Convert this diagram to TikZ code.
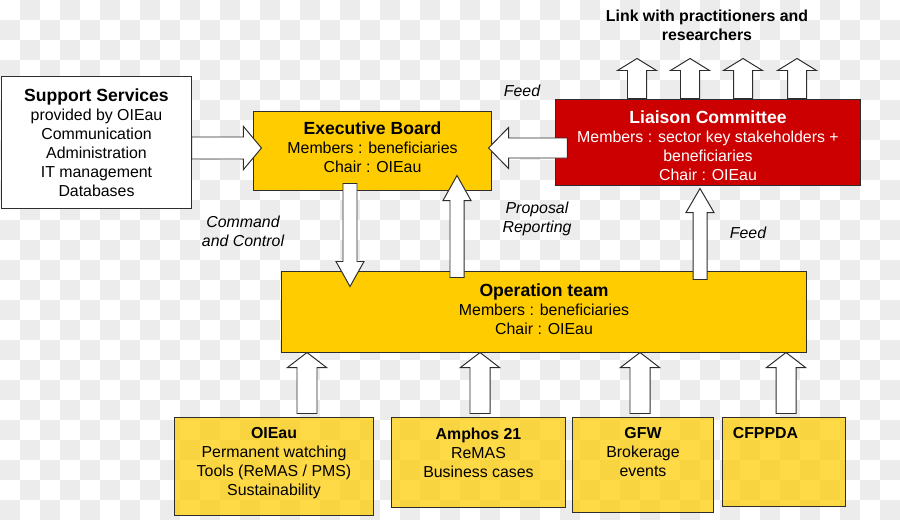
\documentclass[tikz,border=0pt]{standalone}
\usepackage{fontspec}
\setmainfont{Liberation Sans}
\usepackage{xcolor}
\usepackage{tikz}
\usetikzlibrary{calc}

\definecolor{ebgold}{RGB}{255,204,0}
\definecolor{lcred}{RGB}{204,0,0}
\definecolor{chk}{RGB}{236,236,236}
\definecolor{edge}{RGB}{45,45,45}

\newcommand{\pxu}{0.7113pt}
\newcommand{\titlef}{\fontsize{12.5}{13.5}\selectfont\bfseries}
\newcommand{\lowfill}[1]{\rule[-#1]{0pt}{0pt}}
\newcommand{\topfill}[1]{\rule{0pt}{#1}}
% block arrows: from, to, stem half, head half, head length (px)
\newcommand{\vblock}[5]{%
\draw[blockarr] let \p1=(#1), \p2=(#2), \n1={ifthenelse(\y2>\y1,1,-1)} in
(\x1-#3*\pxu,\y1)--(\x1-#3*\pxu,\y2-\n1*#5*\pxu)--(\x1-#4*\pxu,\y2-\n1*#5*\pxu)--(\x1,\y2)
--(\x1+#4*\pxu,\y2-\n1*#5*\pxu)--(\x1+#3*\pxu,\y2-\n1*#5*\pxu)--(\x1+#3*\pxu,\y1)--cycle;}
\newcommand{\hblock}[5]{%
\draw[blockarr] let \p1=(#1), \p2=(#2), \n1={ifthenelse(\x2>\x1,1,-1)} in
(\x1,\y1-#3*\pxu)--(\x2-\n1*#5*\pxu,\y1-#3*\pxu)--(\x2-\n1*#5*\pxu,\y1-#4*\pxu)--(\x2,\y1)
--(\x2-\n1*#5*\pxu,\y1+#4*\pxu)--(\x2-\n1*#5*\pxu,\y1+#3*\pxu)--(\x1,\y1+#3*\pxu)--cycle;}

\tikzset{
box/.style={draw=edge,line width=0.7pt,inner sep=0pt,align=center,font=\fontsize{11.3}{13.5}\selectfont},
boxsize/.style 2 args={minimum width=#1*\pxu,minimum height=#2*\pxu},
goldbox/.style={box,fill=ebgold},
redbox/.style={box,fill=lcred,text=white},
palebox/.style={box,fill=ebgold,fill opacity=0.72},
txt/.style={inner sep=0pt,align=center,font=\fontsize{11.3}{13.5}\selectfont},
note/.style={txt,font=\fontsize{11.3}{13.5}\selectfont\itshape},
blockarr/.style={draw=edge,fill=white,line width=0.7pt,line join=miter}
}

\begin{document}
\begin{tikzpicture}[x=0.025cm,y=-0.025cm]
\useasboundingbox (0,0) rectangle (900,520);
% checker background
\foreach \i in {0,...,44}{\foreach \j in {0,...,25}{%
\pgfmathtruncatemacro\k{\i+\j}\ifodd\k \fill[chk] (\i*20,\j*20) rectangle ++(20,20);\fi}}

\node[box,fill=white,boxsize={189}{131}] (support) at (96.5,142.5)
{{\titlef Support Services}\\provided by OIEau\\Communication\\Administration\\IT management\\Databases};
\node[goldbox,boxsize={237}{79}] (exec) at (372.5,150.5)
{{\titlef Executive Board}\\Members : beneficiaries\\Chair : OIEau\lowfill{4.3pt}};
\node[redbox,boxsize={304}{86}] (liaison) at (708,142)
{\topfill{14.8pt}{\titlef Liaison Committee}\\Members : sector key stakeholders +\\beneficiaries\\Chair : OIEau};
\node[goldbox,boxsize={524}{81}] (op) at (544,311.5)
{{\titlef Operation team}\\Members : beneficiaries\\Chair : OIEau\lowfill{2.8pt}};

\node[palebox,boxsize={198}{98}] (oieau) at (274,466) {};
\node[palebox,boxsize={173}{90}] (amphos) at (478.5,462) {};
\node[palebox,boxsize={140}{95}] (gfw) at (643,464.5) {};
\node[palebox,boxsize={123}{89}] (cfppda) at (783.5,461.5) {};
\node[txt,anchor=north] (oieauT) at ($(oieau.north)+(0,11)$)
{{\bfseries OIEau}\\Permanent watching\\Tools (ReMAS / PMS)\\Sustainability};
\node[txt,anchor=north] (amphosT) at ($(amphos.north)+(0,11)$)
{{\bfseries Amphos 21}\\ReMAS\\Business cases};
\node[txt,anchor=north] (gfwT) at ($(gfw.north)+(0,11)$)
{{\bfseries GFW}\\Brokerage\\events};
\node[txt,anchor=north west] (cfppdaT) at ($(cfppda.north west)+(11,11)$)
{\bfseries CFPPDA};

\node[txt,font=\fontsize{11.3}{13.5}\selectfont\bfseries] (link) at (707,25.5)
{Link with practitioners and\\researchers};
\node[note] (feedA) at (522,91) {Feed};
\node[note] (cmd) at (243,231.5) {Command\\and Control};
\node[note] (prop) at (537,218.5) {Proposal\\Reporting};
\node[note] (feedB) at (748,233) {Feed};

% arrows
\hblock{$(support.east)+(0,5.5)$}{$(exec.west)+(8,0)$}{11}{21.5}{18}
\hblock{$(liaison.west)+(12,6)$}{$(exec.east)+(-3,0)$}{10}{20.5}{20}
\vblock{$(exec.south)+(-22.5,-7)$}{$(op.north)+(0,16)$}{7}{14}{25}
\vblock{$(op.north)+(-87,7)$}{$(exec.south)+(0,-15)$}{7}{14}{25}
\vblock{$(op.north)+(156,9)$}{$(liaison.south)+(0,3)$}{7}{14}{24}
\foreach \dx in {-71,-18,35,89}{%
\vblock{$(liaison.north)+(\dx,0)$}{$(liaison.north)+(0,-40)$}{9.5}{19.5}{12}}
\vblock{$(oieau.north)+(33,-3)$}{op.south}{10}{19.5}{15}
\vblock{$(amphos.north)+(1.5,-3)$}{op.south}{10}{19.5}{15}
\vblock{$(gfw.north)+(-3,-3)$}{op.south}{10}{19.5}{15}
\vblock{$(cfppda.north)+(2.5,-3)$}{op.south}{10}{19.5}{15}
\end{tikzpicture}
\end{document}
